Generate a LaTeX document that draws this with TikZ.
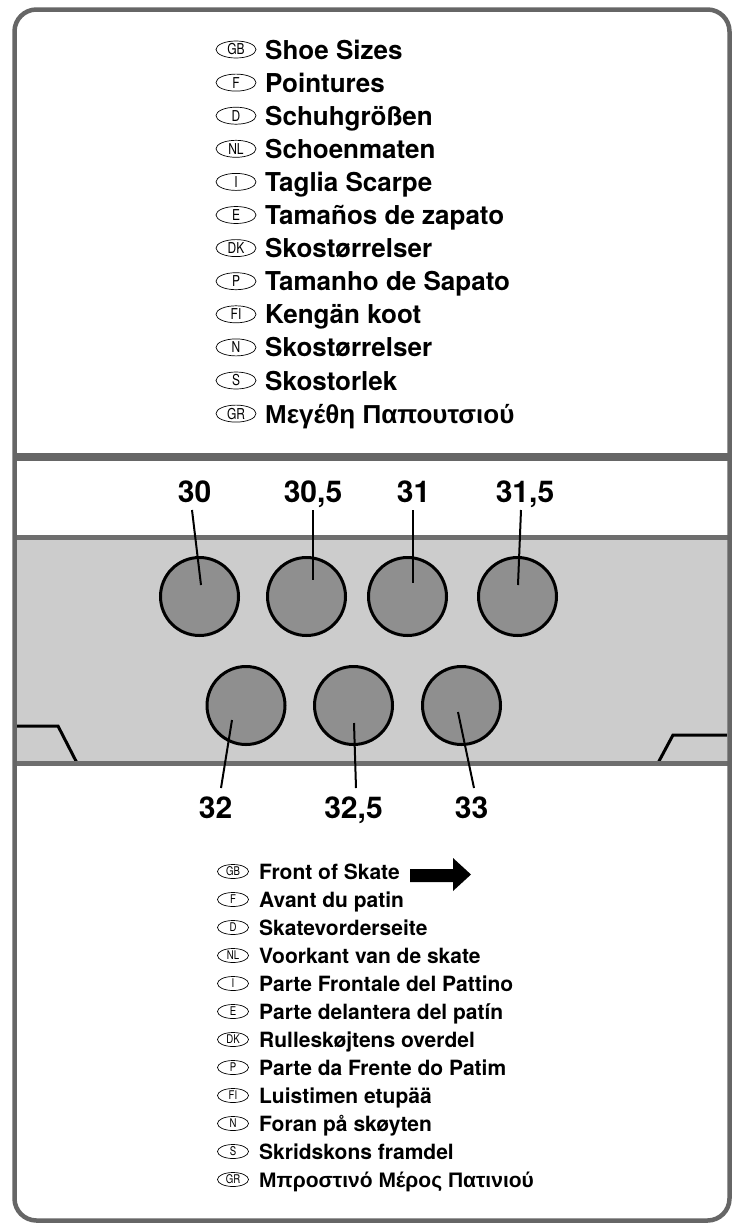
\documentclass[tikz,border=0pt]{standalone}
\usepackage{fontspec}
\setmainfont{TeX Gyre Heros}
\newfontfamily\greekfont{Liberation Sans}
\newfontfamily\badgefont{TeX Gyre Heros}[FakeStretch=0.8]
\usetikzlibrary{calc,shapes.geometric}

\definecolor{framegray}{HTML}{666666}
\definecolor{panelgray}{HTML}{CCCCCC}
\definecolor{holegray}{HTML}{8F8F8F}
\definecolor{rimgray}{HTML}{6E6E6E}

\begin{document}
\begin{tikzpicture}[x=1pt, y=-1pt,
    badge/.style={ellipse, draw, line width=0.7pt, minimum width=40pt, minimum height=17pt, inner sep=0pt, font=\badgefont\fontsize{15}{15}\selectfont},
    smallbadge/.style={badge, minimum width=31pt, minimum height=14pt, font=\badgefont\fontsize{12}{12}\selectfont},
    title/.style={anchor=base west, inner sep=0pt, font=\fontsize{26}{26}\selectfont\bfseries},
    caption/.style={anchor=base west, inner sep=0pt, font=\fontsize{21}{21}\selectfont\bfseries},
    size/.style={anchor=base, inner sep=0pt, font=\fontsize{30}{30}\selectfont\bfseries},
    hole/.style={circle, draw, line width=3pt, fill=holegray, minimum size=78pt, inner sep=0pt},
    leader/.style={line width=2pt}
]

\useasboundingbox (0,0) rectangle (739,1224);

% Skate plate
\fill[panelgray] (14.5,537.5) rectangle (729.5,763.5);
\draw[line width=3pt] (17,726) -- (58,726) -- (77,763);
\draw[line width=3pt] (658,763) -- (673,735) -- (727,735);
\draw[rimgray, line width=5pt] (14.5,537.5) -- (729.5,537.5);
\draw[rimgray, line width=5pt] (14.5,763.5) -- (729.5,763.5);

% Frame and divider
\draw[framegray, line width=7.5pt] (14.5,457) -- (729.5,457);
\draw[framegray, line width=4.5pt, rounded corners=22pt] (14.5,9.5) rectangle (729.5,1220.5);

% Shoe sizes, in twelve languages
\foreach \code/\name [count=\i from 0] in {GB/Shoe Sizes, F/Pointures, D/Schuhgrößen,
    NL/Schoenmaten, I/Taglia Scarpe, E/Tamaños de zapato, DK/Skostørrelser,
    P/Tamanho de Sapato, FI/Kengän koot, N/Skostørrelser, S/Skostorlek,
    GR/{\greekfont Μεγέθη Παπουτσιού}} {
  \node[badge] (tb\i) at (236, {49.5+33.1*\i}) {\code};
  \node[title] (tt\i) at (265, {59+33.1*\i}) {\name};
}

% Holes
\node[hole] (c30)  at (199.5,596.5) {};
\node[hole] (c305) at (306.5,596.5) {};
\node[hole] (c31)  at (407.5,596.5) {};
\node[hole] (c315) at (517.5,596.5) {};
\node[hole] (c32)  at (246,705.5) {};
\node[hole] (c325) at (353.5,705.5) {};
\node[hole] (c33)  at (461.5,705.5) {};

% Size numbers
\node[size] (n30)  at (194.5,502) {30};
\node[size] (n305) at (313,502) {30,5};
\node[size] (n31)  at (413.5,502) {31};
\node[size] (n315) at (525,502) {31,5};
\node[size] (n32)  at (215.5,818) {32};
\node[size] (n325) at (353.5,818) {32,5};
\node[size] (n33)  at (471.5,818) {33};

% Leaders
\draw[leader] ($(n30.base)+(-2.5,8)$) -- ($(c30)+(1.5,-11.5)$);
\draw[leader] ($(n305.base)+(0,8)$) -- ($(c305)+(6.5,-16.5)$);
\draw[leader] ($(n31.base)+(-0.5,8)$) -- ($(c31)+(5.5,-13.5)$);
\draw[leader] ($(n315.base)+(-4,8)$) -- ($(c315)+(0.5,-11.5)$);
\draw[leader] ($(n32.base)+(5.5,-30)$) -- ($(c32)+(-14,14.5)$);
\draw[leader] ($(n325.base)+(2.5,-30)$) -- ($(c325)+(0.5,17.5)$);
\draw[leader] ($(n33.base)+(2.5,-30)$) -- ($(c33)+(-3.5,6.5)$);

% Front of skate, in twelve languages
\foreach \code/\name [count=\i from 0] in {GB/Front of Skate, F/Avant du patin,
    D/Skatevorderseite, NL/Voorkant van de skate, I/Parte Frontale del Pattino,
    E/Parte delantera del patín, DK/Rulleskøjtens overdel, P/Parte da Frente do Patim,
    FI/Luistimen etupää, N/Foran på skøyten, S/Skridskons framdel,
    GR/{\greekfont Μπροστινό Μέρος Πατινιού}} {
  \node[smallbadge] (bb\i) at (233, {871.5+28*\i}) {\code};
  \node[caption] (bt\i) at (259, {879+28*\i}) {\name};
}

% Arrow
\fill (410,869) -- (453,869) -- (453,858) -- (471,874.5) -- (453,891) -- (453,882) -- (410,882) -- cycle;

\end{tikzpicture}
\end{document}
